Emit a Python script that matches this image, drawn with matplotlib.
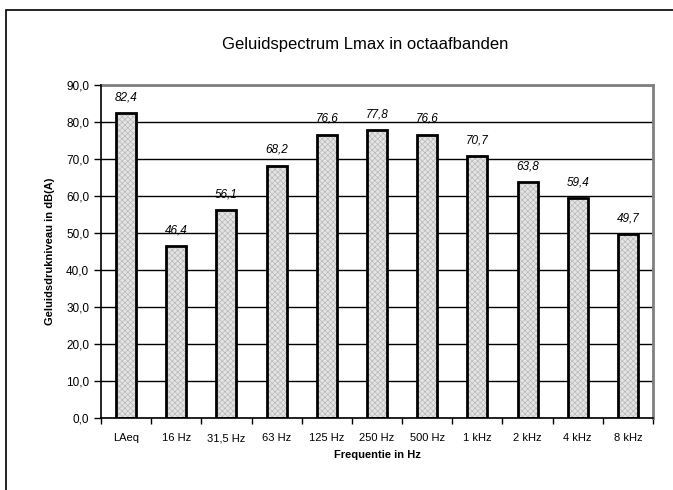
import numpy as np
import matplotlib.pyplot as plt
from matplotlib.patches import Rectangle
from matplotlib.ticker import FuncFormatter

plt.rcParams['font.family'] = ['Liberation Sans', 'DejaVu Sans']
plt.rcParams['hatch.linewidth'] = 0.5

categories = ['LAeq', '16 Hz', '31,5 Hz', '63 Hz', '125 Hz', '250 Hz',
              '500 Hz', '1 kHz', '2 kHz', '4 kHz', '8 kHz']
values = [82.4, 46.4, 56.1, 68.2, 76.6, 77.8, 76.6, 70.7, 63.8, 59.4, 49.7]

fig = plt.figure(figsize=(6.73, 4.90), dpi=100)
# outer chart frame
fig.patches.append(Rectangle((6 / 673, -0.1), 1.0, 1.1 - 10 / 490, transform=fig.transFigure,
                             fill=False, edgecolor='black', linewidth=1.2))

ax = fig.add_axes([101 / 673, 1 - 418 / 490, 552 / 673, 333 / 490])
x = np.arange(len(categories))

# fine checkered fill, then black outline
ax.bar(x, values, width=0.4, color='#e4e4e4', edgecolor='#b8b8b8', hatch='xxxxxx',
       linewidth=0, zorder=3)
ax.bar(x, values, width=0.4, fill=False, edgecolor='black', linewidth=2, zorder=4)

for xi, v in zip(x, values):
    ax.annotate(f'{v:.1f}'.replace('.', ','), (xi, v), xytext=(0, 7),
                textcoords='offset points', ha='center', va='bottom',
                fontsize=8.5, style='italic')

ax.set_xlim(-0.5, len(categories) - 0.5)
ax.set_ylim(0, 90)
ax.set_yticks(np.arange(0, 91, 10))
ax.yaxis.set_major_formatter(FuncFormatter(lambda v, p: f'{v:.1f}'.replace('.', ',')))
ax.set_xticks(x)
ax.set_xticklabels(categories)
ax.set_xticks(np.arange(-0.5, len(categories), 1), minor=True)
ax.tick_params(axis='x', which='major', length=0, pad=11, labelsize=8)
ax.tick_params(axis='x', which='minor', length=4, width=1, direction='out')
ax.tick_params(axis='y', length=5, width=1, direction='out', labelsize=8.5)

ax.grid(axis='y', color='black', linewidth=1, zorder=0)
ax.set_axisbelow(True)
for s in ['top', 'right']:
    ax.spines[s].set_color('#808080')
    ax.spines[s].set_linewidth(2)
for s in ['left', 'bottom']:
    ax.spines[s].set_color('black')
    ax.spines[s].set_linewidth(1.2)
    ax.spines[s].set_zorder(5)

ax.set_xlabel('Frequentie in Hz', fontsize=8, fontweight='bold', labelpad=5)
ax.set_ylabel('Geluidsdrukniveau in dB(A)', fontsize=8, fontweight='bold', labelpad=8)
fig.text(365 / 673, 1 - 45 / 490, 'Geluidspectrum Lmax in octaafbanden',
         ha='center', va='center', fontsize=12)

fig.savefig('out.png', dpi=100)
